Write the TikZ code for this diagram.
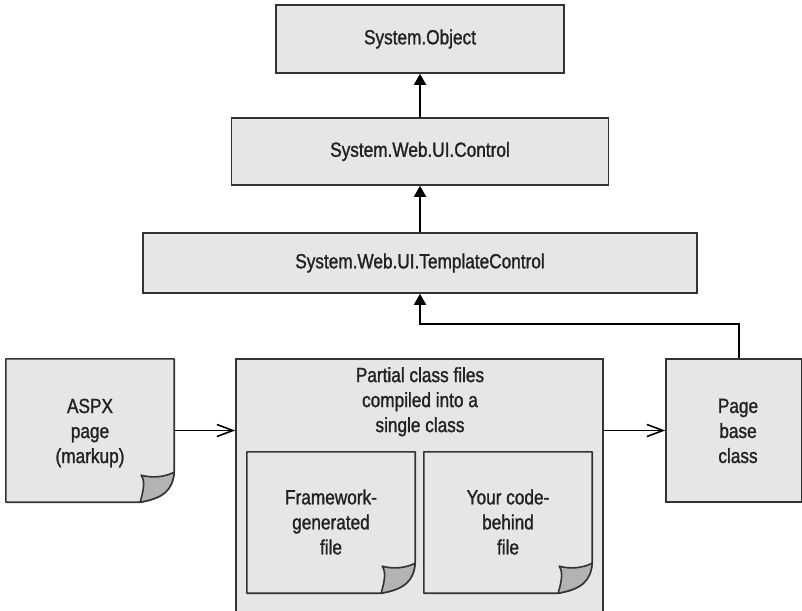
\documentclass[tikz,border=0pt]{standalone}
\usepackage{fontspec}
\setmainfont[FakeStretch=0.84,FakeBold=1.3]{Liberation Sans}
\usetikzlibrary{arrows.meta,calc}
\definecolor{boxgray}{HTML}{E6E6E6}
\definecolor{foldgray}{HTML}{B3B3B3}
\definecolor{edge}{HTML}{333333}
\definecolor{txt}{HTML}{222222}
\newcommand\docshape[1]{%
  \filldraw[docline]
    (#1.north west) -- (#1.north east) -- ($(#1.south east)+(0,-31)$)
    .. controls ($(#1.south east)+(-1.5,-12)$) and ($(#1.south east)+(-11,-4)$) .. ($(#1.south east)+(-34,0)$)
    -- (#1.south west) -- cycle;
  \filldraw[docline, fill=foldgray]
    ($(#1.south east)+(-33,-27)$)
    .. controls ($(#1.south east)+(-22,-24)$) and ($(#1.south east)+(-10,-25)$) .. ($(#1.south east)+(0,-30)$)
    .. controls ($(#1.south east)+(-1.5,-12)$) and ($(#1.south east)+(-11,-4)$) .. ($(#1.south east)+(-34,0)$)
    .. controls ($(#1.south east)+(-32,-8)$) and ($(#1.south east)+(-28,-20)$) .. cycle;
}
\begin{document}
\begin{tikzpicture}[x=1pt,y=-1pt,
  every node/.style={font=\fontsize{20.5}{25}\selectfont, text=txt, align=center, inner sep=0pt},
  classbox/.style={draw=edge, line width=1.6pt, fill=boxgray, rectangle},
  plainbox/.style={rectangle, draw=none},
  docline/.style={draw=edge, line width=1.6pt, fill=boxgray, line join=round},
  uparrow/.style={line width=1.8pt, draw=black, -{Triangle[width=12pt,length=11pt]}},
  sidearrow/.style={line width=1.6pt, draw=black, -{Straight Barb[length=16pt,width=12pt,line width=1.6pt]}}
]
\useasboundingbox (0,0) rectangle (802,610);
\fill[white] (0,0) rectangle (802,610);

% top three class boxes
\node[classbox, minimum width=288pt, minimum height=68pt] (obj) at (420,39) {System.Object};
\node[classbox, minimum width=377pt, minimum height=67pt] (ctrl) at (420,151.5) {System.Web.UI.Control};
\node[classbox, minimum width=554pt, minimum height=60pt] (tmpl) at (420,263) {System.Web.UI.TemplateControl};

% lower row
\node[plainbox, minimum width=168pt, minimum height=143pt] (aspx) at (90,430.5) {};
\docshape{aspx}
\node (aspxt) at (90,433) {ASPX\\page\\(markup)};

\node[classbox, minimum width=367pt, minimum height=260pt] (mid) at (419.5,489) {};
\node[anchor=north] (midt) at (420,367) {Partial class files\\compiled into a\\single class};

\node[plainbox, minimum width=168pt, minimum height=141pt] (fw) at (331,522.5) {};
\docshape{fw}
\node (fwt) at (331,522) {Framework-\\generated\\file};

\node[plainbox, minimum width=168pt, minimum height=141pt] (cb) at (508,522.5) {};
\docshape{cb}
\node (cbt) at (508,522) {Your code-\\behind\\file};

\node[classbox, minimum width=136pt, minimum height=143pt] (page) at (734,430.5) {};
\node (paget) at (738,431) {Page\\base\\class};

% connectors
\draw[uparrow] (ctrl.north) -- (obj.south);
\draw[uparrow] (tmpl.north) -- (ctrl.south);
\coordinate (pbtop) at ([xshift=5pt]page.north);
\draw[uparrow] (pbtop) -- ++(0,-34) -| (tmpl.south);
\draw[sidearrow] (aspx.east) -- (aspx.east -| mid.west);
\draw[sidearrow] (mid.east |- page.west) -- (page.west);
\end{tikzpicture}
\end{document}
